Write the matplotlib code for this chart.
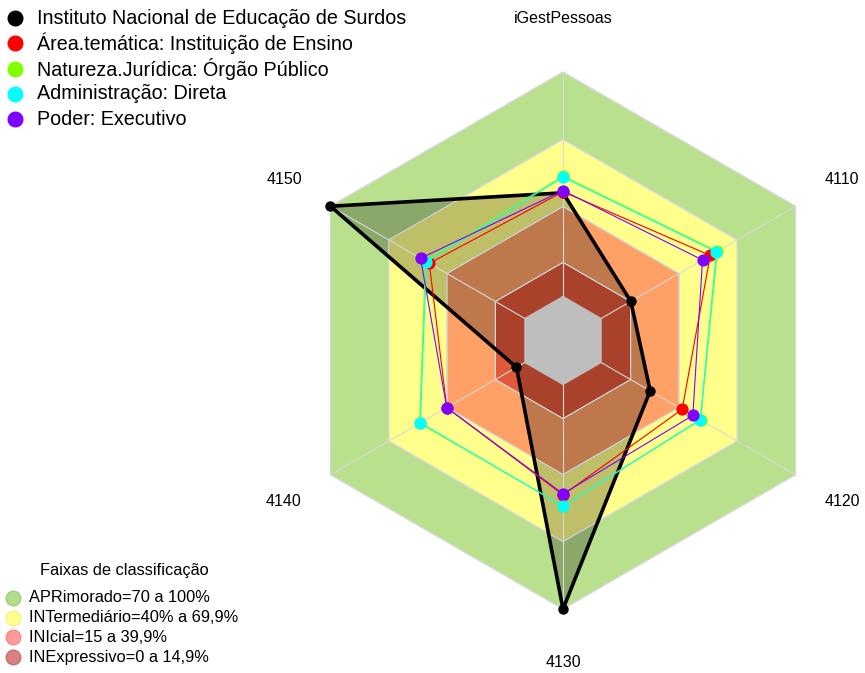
import numpy as np
import matplotlib.pyplot as plt
from matplotlib.patches import Polygon

plt.rcParams['font.family'] = ['Liberation Sans', 'DejaVu Sans']

# eixos no sentido horario a partir do topo
eixos = ['iGestPessoas', '4110', '4120', '4130', '4140', '4150']

# valores em %
inst = [46, 15, 25, 100, 4, 100]
area = [46.5, 56, 41.5, 49, 40, 49]
natureza = [53.5, 59.7, 51, 54, 54, 51]
admin = [53, 59.2, 50.8, 54, 53.6, 50.5]
poder = [47, 52, 47, 48.5, 40, 53.5]

series_nomes = ['Instituto Nacional de Educação de Surdos',
                'Área.temática: Instituição de Ensino',
                'Natureza.Jurídica: Órgão Público',
                'Administração: Direta',
                'Poder: Executivo']
series_vals = [inst, area, natureza, admin, poder]
series_cores = ['black', '#ff0000', '#80ff00', '#00ffff', '#8000ff']

faixas_lim = [100, 69.9, 39.9, 14.9]
faixas_cores = ['#b9e18d', '#ffff8c', '#ffa066', '#e2583a']
faixas_nomes = ['APRimorado=70 a 100%', 'INTermediário=40% a 69,9%',
                'INIcial=15 a 39,9%', 'INExpressivo=0 a 14,9%']
faixas_leg = ['#b3dd8a', '#ffff8f', '#ff9a9a', '#d98080']
faixas_leg_borda = ['#9fd075', '#f5f57a', '#f48a8a', '#c86f6f']

SEG = 5
ang = np.deg2rad(90 - 60 * np.arange(len(eixos)))


def escala(v):
    # centro deslocado como no radarchart (centerzero = FALSE)
    return (1 + SEG * np.asarray(v, dtype=float) / 100) / (SEG + 1)


def xy(v):
    r = escala(v)
    return r * np.cos(ang), r * np.sin(ang)


W, H = 865, 673
cx, cy, R = 563, 340.5, 268.5
fig = plt.figure(figsize=(W / 100, H / 100), dpi=100)
ax = fig.add_axes([0, 0, 1, 1])
ax.set_xlim(-cx / R, (W - cx) / R)
ax.set_ylim(-(H - cy) / R, cy / R)
ax.axis('off')

# faixas
for lim, cor in zip(faixas_lim, faixas_cores):
    x, y = xy([lim] * len(eixos))
    ax.add_patch(Polygon(np.c_[x, y], closed=True, facecolor=cor,
                         edgecolor='#d8d8d8', lw=0.8, zorder=1))

# contorno externo
x, y = xy([100] * len(eixos))
ax.add_patch(Polygon(np.c_[x, y], closed=True, fill=False,
                     edgecolor='#d8d8d8', lw=0.8, zorder=1.5))

# preenchimento da primeira serie
x, y = xy(inst)
ax.add_patch(Polygon(np.c_[x, y], closed=True, facecolor='black',
                     alpha=0.25, edgecolor='none', zorder=2))

# centro cinza
x, y = xy([0] * len(eixos))
ax.add_patch(Polygon(np.c_[x, y], closed=True, facecolor='#bebebe',
                     edgecolor='none', zorder=3))

# raios
for a in ang:
    r0, r1 = escala(0), escala(100)
    ax.plot([r0 * np.cos(a), r1 * np.cos(a)], [r0 * np.sin(a), r1 * np.sin(a)],
            color='#d8d8d8', lw=0.8, zorder=3)
for lim in faixas_lim[1:]:
    x, y = xy([lim] * len(eixos))
    ax.plot(np.r_[x, x[0]], np.r_[y, y[0]], color='#d8d8d8', lw=0.8, zorder=3)

# series
for i, (vals, cor) in enumerate(zip(series_vals, series_cores)):
    x, y = xy(vals)
    if i == 0:
        ax.plot(np.r_[x, x[0]], np.r_[y, y[0]], color=cor, lw=2.6, zorder=4)
        ax.plot(x, y, 'o', color=cor, ms=6.5, zorder=4)
    else:
        ax.plot(np.r_[x, x[0]], np.r_[y, y[0]], color=cor, lw=0.8, zorder=5 + i)
        ax.plot(x, y, 'o', color=cor, ms=7.8, zorder=5 + i)

# rotulos dos eixos
for nome, a in zip(eixos, ang):
    ax.text(1.2 * np.cos(a), 1.2 * np.sin(a), nome, ha='center', va='center',
            fontsize=11.5)

# legenda das series
for i, (nome, cor) in enumerate(zip(series_nomes, series_cores)):
    ypx = 18 + 25.3 * i
    fig.lines.append(plt.Line2D([15 / W], [1 - ypx / H], marker='o', color=cor,
                                ms=10.5, transform=fig.transFigure))
    fig.text(37 / W, 1 - ypx / H, nome, fontsize=14.2, va='center', ha='left')

# legenda das faixas
fig.text(124 / W, 1 - 571 / H, 'Faixas de classificação', fontsize=11.8,
         va='center', ha='center')
for i, (nome, cor, borda) in enumerate(zip(faixas_nomes, faixas_leg, faixas_leg_borda)):
    ypx = 598 + 19.7 * i
    fig.lines.append(plt.Line2D([13 / W], [1 - ypx / H], marker='o', color=cor,
                                mec=borda, ms=10.5, transform=fig.transFigure))
    fig.text(29 / W, 1 - ypx / H, nome, fontsize=11.8, va='center', ha='left')

plt.savefig('out.png', dpi=100)
plt.close()
